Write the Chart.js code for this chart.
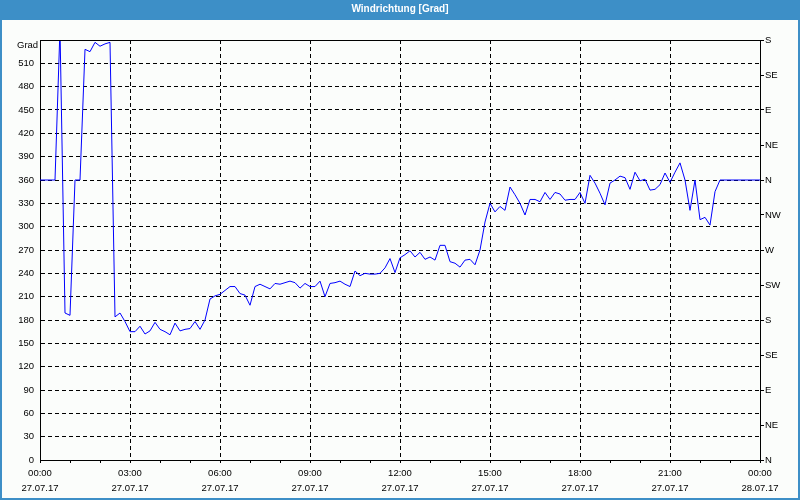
<!DOCTYPE html>
<html>
<head>
<meta charset="utf-8">
<script src="https://cdn.jsdelivr.net/npm/chart.js@4/dist/chart.umd.min.js"></script>
<style>
html,body{margin:0;padding:0;background:#fbfdfb;}
#wrap{width:800px;height:500px;position:relative;}
canvas{display:block;}
</style>
</head>
<body>
<div id="wrap"><canvas id="c" width="800" height="500"></canvas></div>
<script>
const chartTitle = 'Windrichtung [Grad]';
const yUnitLabel = 'Grad';

// 10-minute samples, 27.07.17 00:00 – 28.07.17 00:00
const times = [
'00:00','00:10','00:20','00:30','00:40','00:50',
'01:00','01:10','01:20','01:30','01:40','01:50',
'02:00','02:10','02:20','02:30','02:40','02:50',
'03:00','03:10','03:20','03:30','03:40','03:50',
'04:00','04:10','04:20','04:30','04:40','04:50',
'05:00','05:10','05:20','05:30','05:40','05:50',
'06:00','06:10','06:20','06:30','06:40','06:50',
'07:00','07:10','07:20','07:30','07:40','07:50',
'08:00','08:10','08:20','08:30','08:40','08:50',
'09:00','09:10','09:20','09:30','09:40','09:50',
'10:00','10:10','10:20','10:30','10:40','10:50',
'11:00','11:10','11:20','11:30','11:40','11:50',
'12:00','12:10','12:20','12:30','12:40','12:50',
'13:00','13:10','13:20','13:30','13:40','13:50',
'14:00','14:10','14:20','14:30','14:40','14:50',
'15:00','15:10','15:20','15:30','15:40','15:50',
'16:00','16:10','16:20','16:30','16:40','16:50',
'17:00','17:10','17:20','17:30','17:40','17:50',
'18:00','18:10','18:20','18:30','18:40','18:50',
'19:00','19:10','19:20','19:30','19:40','19:50',
'20:00','20:10','20:20','20:30','20:40','20:50',
'21:00','21:10','21:20','21:30','21:40','21:50',
'22:00','22:10','22:20','22:30','22:40','22:50',
'23:00','23:10','23:20','23:30','23:40','23:50',
'00:00'
];

const windDir = [
360,360,360,360,555,189,186,360,360,528,
525,537,532,535,537,184,189,178,165,165,
172,162,166,177,168,165,161,176,166,168,
169,178,168,180,207,211,213,218,223,223,
214,212,199,223,226,223,220,227,226,228,
230,228,221,227,223,223,230,210,227,228,
230,226,223,243,237,240,239,239,240,247,
259,241,260,264,269,261,267,258,261,257,
276,276,255,253,248,257,258,251,270,306,
330,319,326,321,351,341,330,315,335,335,
332,344,335,344,342,334,335,335,344,330,
366,356,343,328,356,360,365,363,348,370,
359,361,347,348,354,369,357,370,382,360,
321,360,309,312,302,345,360,360,360,360,
360,360,360,360,360
];

const xTickTimes = ['00:00','03:00','06:00','09:00','12:00','15:00','18:00','21:00','00:00'];
const xTickDates = ['27.07.17','27.07.17','27.07.17','27.07.17','27.07.17','27.07.17','27.07.17','27.07.17','28.07.17'];
const compassLabels = ['N','NE','E','SE','S','SW','W','NW','N','NE','E','SE','S'];

const FONT = "'Liberation Sans', Arial, sans-serif";
Chart.defaults.font.family = FONT;

const frame = {
  id: 'frame',
  beforeDraw(chart) {
    const c = chart.ctx;
    c.save();
    c.fillStyle = '#fbfdfb';
    c.fillRect(0, 0, 800, 500);
    c.fillStyle = '#3d8fc7';
    c.fillRect(0, 0, 800, 20);
    c.fillRect(0, 0, 2, 500);
    c.fillRect(798, 0, 2, 500);
    c.fillRect(0, 498, 800, 2);
    c.restore();
  },
  afterDraw(chart) {
    const c = chart.ctx, a = chart.chartArea;
    c.save();
    c.strokeStyle = '#000';
    c.lineWidth = 1;
    c.beginPath();
    c.moveTo(a.left, a.top + 0.5);
    c.lineTo(a.right + 1, a.top + 0.5);
    c.stroke();
    c.fillStyle = '#000';
    c.font = "9.5px " + FONT;
    c.textAlign = 'left';
    c.textBaseline = 'middle';
    c.fillText(yUnitLabel, 17, 45);
    c.restore();
  }
};

new Chart(document.getElementById('c'), {
  type: 'line',
  data: {
    labels: times,
    datasets: [{
      data: windDir,
      borderColor: '#0000ff',
      borderWidth: 1,
      pointRadius: 0,
      tension: 0,
      fill: false,
      yAxisID: 'y'
    }]
  },
  options: {
    responsive: false,
    animation: false,
    devicePixelRatio: 1,
    layout: { padding: 0 },
    plugins: {
      legend: { display: false },
      tooltip: { enabled: false },
      title: {
        display: true,
        text: chartTitle,
        color: '#ffffff',
        font: { family: FONT, size: 10, weight: 'bold', lineHeight: '12px' },
        padding: { top: 3, bottom: 25 }
      }
    },
    scales: {
      x: {
        type: 'category',
        position: 'bottom',
        afterFit: s => { s.height = 40; },
        grid: {
          color: ctx => (ctx.index % 18 === 0 ? '#000' : 'rgba(0,0,0,0)'),
          tickColor: ctx => (ctx.index % 6 === 0 ? '#000' : 'rgba(0,0,0,0)'),
          lineWidth: 1,
          tickLength: 3,
          drawTicks: true
        },
        border: { display: true, color: '#000', width: 1, dash: [4, 3] },
        ticks: {
          autoSkip: false,
          maxRotation: 0,
          minRotation: 0,
          padding: 3,
          color: '#000',
          font: { size: 9.5, lineHeight: '15px' },
          callback: (v, i) => (i % 18 === 0 ? [xTickTimes[i / 18], xTickDates[i / 18]] : '')
        }
      },
      y: {
        position: 'left',
        min: 0,
        max: 540,
        afterFit: s => { s.width = 40; },
        grid: { color: '#000', lineWidth: 1, drawTicks: false },
        border: { display: true, color: '#000', width: 1, dash: [4, 3] },
        ticks: {
          stepSize: 30,
          padding: 6,
          color: '#000',
          font: { size: 9.5 },
          callback: v => (v === 540 ? '' : String(v))
        }
      },
      y2: {
        position: 'right',
        min: 0,
        max: 540,
        afterFit: s => { s.width = 40; },
        grid: { drawOnChartArea: false, color: '#000', tickLength: 4, drawTicks: true },
        border: { display: true, color: '#000', width: 1 },
        ticks: {
          stepSize: 45,
          padding: 1,
          color: '#000',
          font: { size: 9.5 },
          callback: v => compassLabels[Math.round(v / 45)]
        }
      }
    }
  },
  plugins: [frame]
});
</script>
</body>
</html>
